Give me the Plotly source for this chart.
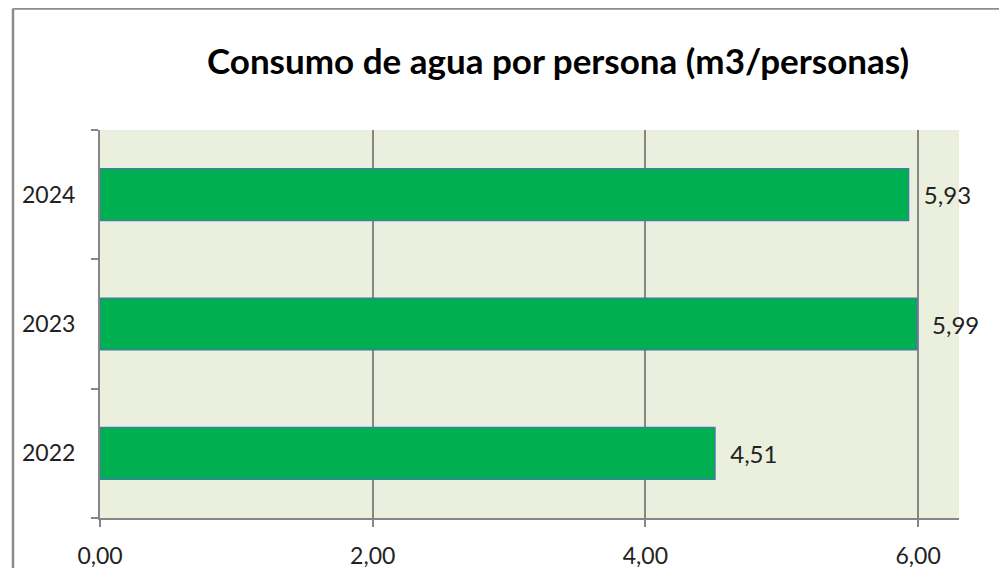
import plotly.graph_objects as go

years = ["2022", "2023", "2024"]
values = [4.51, 5.99, 5.93]
x_ticks = [0, 2, 4, 6]
x_tick_labels = ["0,00", "2,00", "4,00", "6,00"]
title = "Consumo de agua por persona (m3/personas)"

W, H = 999, 560
L, R, T, B = 92, 48, 122, 50
PW, PH = W - L - R, H - T - B

fig = go.Figure()
fig.add_trace(go.Bar(
    y=years, x=values, orientation="h",
    marker=dict(color="#00B050", line=dict(color="#3A7F9E", width=1.5)),
    width=0.4,
    texttemplate="  %{x:.2f}", textposition="outside",
    textfont=dict(family="Lato", size=24, color="#222222"),
    cliponaxis=False,
))

fig.update_layout(
    width=W, height=H,
    margin=dict(l=L, r=R, t=T, b=B, autoexpand=False),
    paper_bgcolor="white",
    plot_bgcolor="#EBF0DE",
    separators=",.",
    showlegend=False,
    title=dict(text="<b>" + title + "</b>", x=550 / W, xanchor="center",
               y=1 - 54 / H, yanchor="middle",
               font=dict(family="Lato", size=35, color="#000000")),
    xaxis=dict(range=[0, 6.3], tickvals=x_ticks, ticktext=x_tick_labels,
               showgrid=True, gridcolor="#868686", gridwidth=1.5,
               showline=True, linecolor="#868686", linewidth=2,
               ticks="outside", ticklen=7, tickcolor="#868686", tickwidth=2,
               ticklabelstandoff=9, automargin=False,
               tickfont=dict(family="Lato", size=23, color="#222222"),
               zeroline=False, fixedrange=True),
    yaxis=dict(categoryorder="array", categoryarray=years,
               showline=True, linecolor="#868686", linewidth=2,
               ticks="outside", ticklen=7, tickcolor="#868686", tickwidth=2,
               tickson="boundaries", ticklabelstandoff=18, automargin=False,
               tickfont=dict(family="Lato", size=23, color="#222222"),
               showgrid=False, fixedrange=True),
)

# outer chart border (left and top edges visible)
bx = (5 - L) / PW
by = 1 + (T - 0.5) / PH
fig.add_shape(type="line", xref="paper", yref="paper",
              x0=bx, x1=bx, y0=-(B + 20) / PH, y1=by,
              line=dict(color="#8C8C8C", width=2.5))
fig.add_shape(type="line", xref="paper", yref="paper",
              x0=bx, x1=1 + (R + 20) / PW, y0=by, y1=by,
              line=dict(color="#8C8C8C", width=2.5))

fig.write_html("out.html")
